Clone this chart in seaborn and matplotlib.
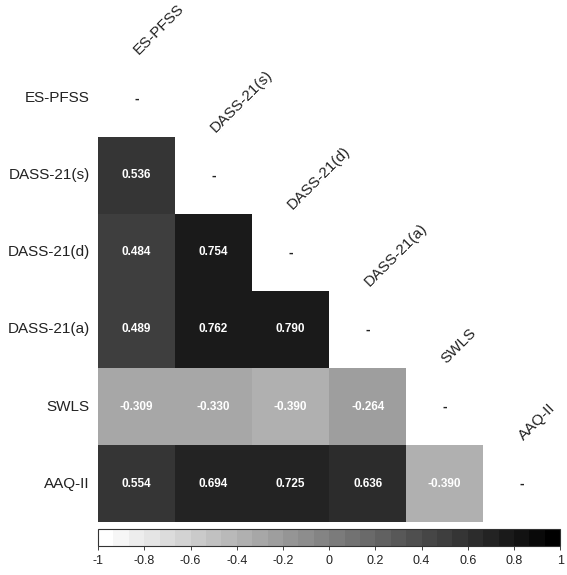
import numpy as np
import pandas as pd
import matplotlib
matplotlib.use("Agg")
import matplotlib.pyplot as plt
from matplotlib.colors import ListedColormap
import seaborn as sns

sns.set_style("white")
plt.rcParams['font.family'] = ['Liberation Sans', 'DejaVu Sans']

# 数据
labels = ['ES-PFSS', 'DASS-21(s)', 'DASS-21(d)', 'DASS-21(a)', 'SWLS', 'AAQ-II']
r_dass_s = [0.536]
r_dass_d = [0.484, 0.754]
r_dass_a = [0.489, 0.762, 0.790]
r_swls = [-0.309, -0.330, -0.390, -0.264]
r_aaq = [0.554, 0.694, 0.725, 0.636, -0.390]
cbar_ticks = [-1, -0.8, -0.6, -0.4, -0.2, 0, 0.2, 0.4, 0.6, 0.8, 1]

# 构造相关矩阵
n = len(labels)
mat = np.eye(n)
for i, row in enumerate([r_dass_s, r_dass_d, r_dass_a, r_swls, r_aaq], start=1):
    mat[i, :i] = row
    mat[:i, i] = row
corr = pd.DataFrame(mat, index=labels, columns=labels)
mask = np.triu(np.ones_like(mat, dtype=bool))

# 离散灰度色带
cmap = ListedColormap([str(v) for v in np.linspace(1, 0, 30)])

fig = plt.figure(figsize=(5.67, 5.75), dpi=100)
ax = fig.add_axes([0.173, 0.092, 0.815, 0.804])
cax = fig.add_axes([0.173, 0.050, 0.815, 0.030])

sns.heatmap(corr, mask=mask, cmap=cmap, vmin=-1, vmax=1, annot=True, fmt='.3f',
            annot_kws={'color': 'white', 'weight': 'bold', 'fontsize': 8.5},
            cbar_ax=cax, cbar_kws={'orientation': 'horizontal', 'ticks': cbar_ticks},
            square=False, linewidths=0, ax=ax)

# 对角线 "-" 和列标签
for i, name in enumerate(labels):
    ax.text(i + 0.5, i + 0.5, '-', ha='center', va='center', fontsize=10,
            weight='bold', color='#222222')
    ax.text(i + 0.55, i - 0.03, name, rotation=45, rotation_mode='anchor',
            ha='left', va='bottom', fontsize=11, color='#222222')

ax.set_xticks([])
ax.set_yticks(np.arange(n) + 0.5)
ax.set_yticklabels(labels, rotation=0, fontsize=11, color='#222222')
ax.tick_params(axis='y', length=0, pad=6)
ax.set_xlabel('')
ax.set_ylabel('')

cb = ax.collections[0].colorbar
cb.outline.set_visible(True)
cb.outline.set_edgecolor('#333333')
cb.outline.set_linewidth(0.8)
cb.ax.tick_params(labelsize=9, length=3, width=0.6, colors='#222222')
cb.ax.set_xticklabels([f'{t:g}' for t in cbar_ticks])

plt.savefig('out.png', dpi=100)
